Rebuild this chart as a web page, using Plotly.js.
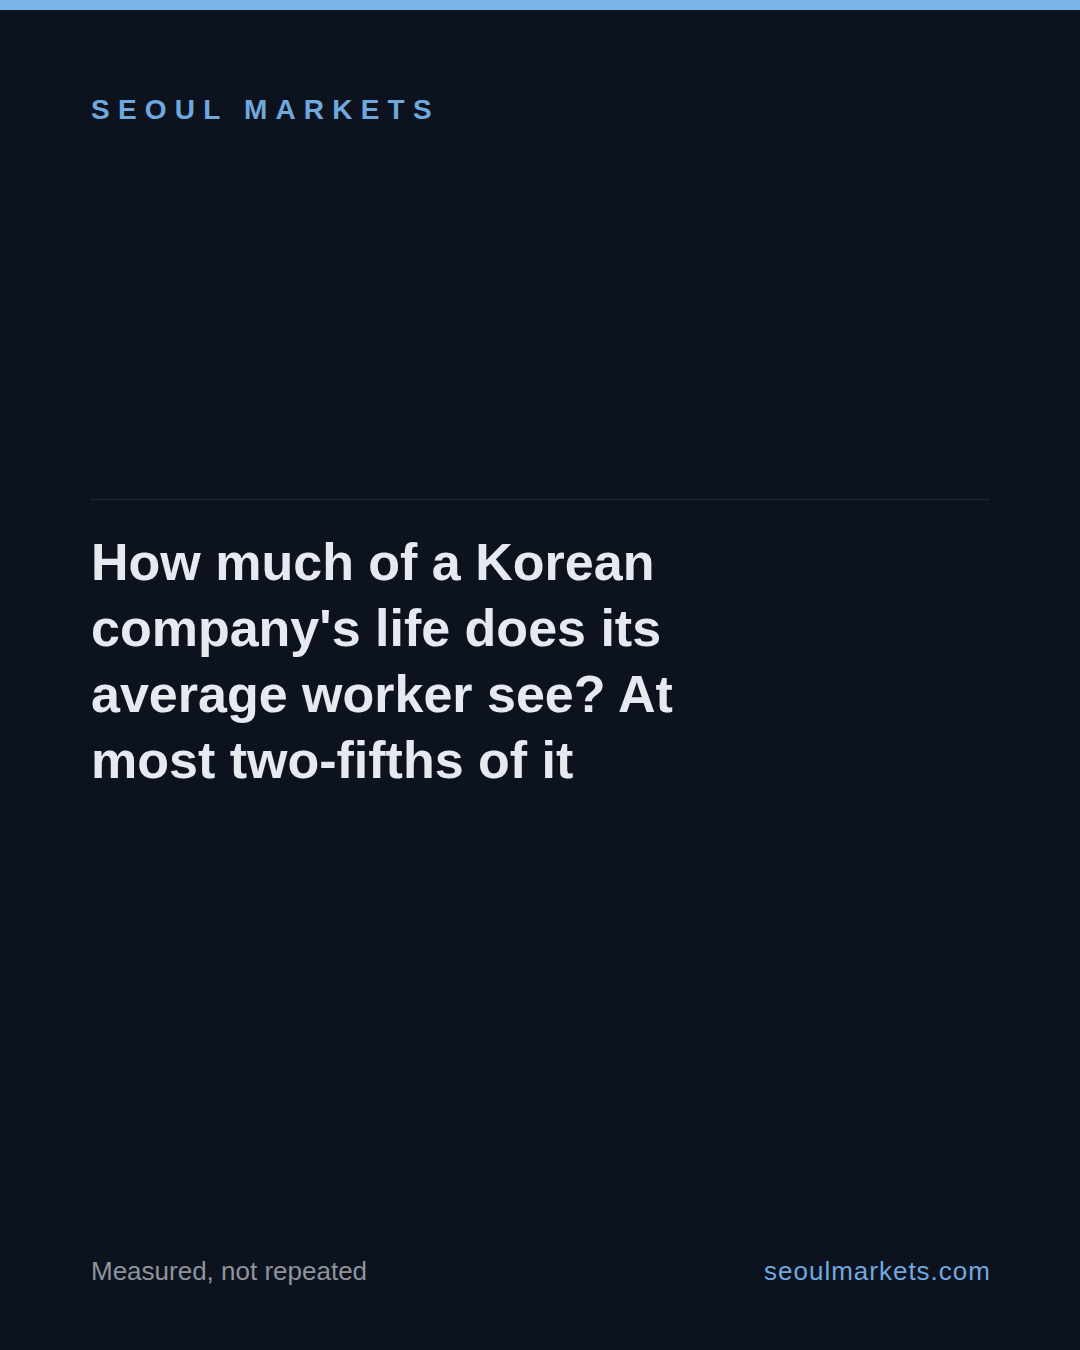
<!DOCTYPE html>
<html>
<head>
<meta charset="utf-8">
<script src="https://cdn.plot.ly/plotly-3.0.1.min.js"></script>
<style>
  html, body { margin: 0; padding: 0; background: #0d131e; }
  #chart { width: 1080px; height: 1350px; }
</style>
</head>
<body>
<div id="chart"></div>
<script>
// Text content of the card
const brandName = "SEOUL MARKETS";
const titleLines = [
  "How much of a Korean",
  "company's life does its",
  "average worker see? At",
  "most two-fifths of it"
];
const footerNote = "Measured, not repeated";
const footerSite = "seoulmarkets.com";

const BG = "#0d131e";
const ACCENT = "#7ab4e8";
const BRAND = "#6fa9df";
const TITLE = "#e6e9ef";
const MUTED = "#8e939c";
const RULE = "#1d2431";
const FONT = "'Liberation Sans', Arial, Helvetica, sans-serif";

const TITLE_TOP = 531;
const TITLE_STEP = 66;

const titleAnnotations = titleLines.map(function (line, i) {
  return {
    text: line, xref: "x", yref: "y", x: 89, y: TITLE_TOP + TITLE_STEP * i,
    xanchor: "left", yanchor: "top", align: "left", showarrow: false,
    font: { family: FONT, size: 52, color: TITLE, weight: 700 }
  };
});

const layout = {
  width: 1080,
  height: 1350,
  margin: { l: 0, r: 0, t: 0, b: 0, pad: 0 },
  paper_bgcolor: BG,
  plot_bgcolor: BG,
  showlegend: false,
  xaxis: { range: [0, 1080], visible: false, fixedrange: true },
  yaxis: { range: [1350, 0], visible: false, fixedrange: true },
  shapes: [
    { type: "rect", xref: "x", yref: "y", x0: 0, x1: 1080, y0: 0, y1: 10,
      fillcolor: ACCENT, line: { width: 0 }, layer: "above" },
    { type: "line", xref: "x", yref: "y", x0: 90, x1: 990, y0: 499.5, y1: 499.5,
      line: { color: RULE, width: 1.5 } }
  ],
  annotations: [
    { text: brandName, xref: "x", yref: "y", x: 89, y: 91.7,
      xanchor: "left", yanchor: "top", align: "left", showarrow: false,
      font: { family: FONT, size: 28, color: BRAND, weight: 700 } },
    { text: footerNote, xref: "x", yref: "y", x: 89, y: 1253.5,
      xanchor: "left", yanchor: "top", align: "left", showarrow: false,
      font: { family: FONT, size: 26, color: MUTED } },
    { text: footerSite, xref: "x", yref: "y", x: 993, y: 1253.5,
      xanchor: "right", yanchor: "top", align: "right", showarrow: false,
      font: { family: FONT, size: 26, color: BRAND } }
  ].concat(titleAnnotations)
};

Plotly.newPlot("chart", [], layout, { staticPlot: true, displayModeBar: false }).then(function (gd) {
  const texts = gd.querySelectorAll(".annotation-text");
  if (texts[0]) texts[0].style.letterSpacing = "8.2px";
  if (texts[2]) texts[2].style.letterSpacing = "1px";
});
</script>
</body>
</html>
